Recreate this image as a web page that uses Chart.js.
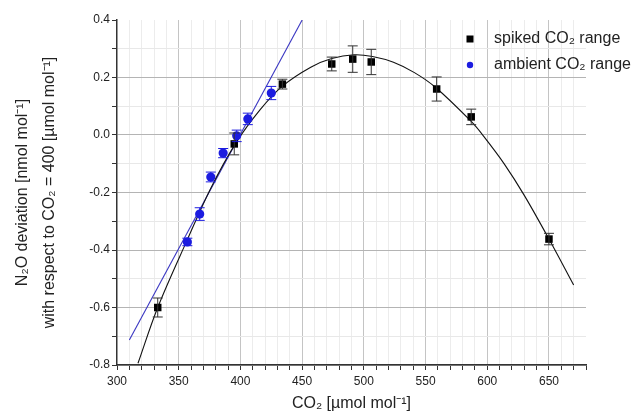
<!DOCTYPE html>
<html>
<head>
<meta charset="utf-8">
<script src="https://cdn.jsdelivr.net/npm/chart.js@4.4.1/dist/chart.umd.min.js"></script>
<style>
  html, body { margin: 0; padding: 0; background: #fff; }
  #wrap { width: 640px; height: 420px; }
</style>
</head>
<body>
<div id="wrap"><canvas id="c" width="640" height="420"></canvas></div>
<script>
// ---- data ----
const spikedX   = [333, 395, 434, 474, 491, 506, 559, 587, 650];
const spikedY   = [-0.600, -0.031, 0.177, 0.247, 0.264, 0.254, 0.160, 0.063, -0.362];
const spikedErr = [0.033, 0.038, 0.017, 0.024, 0.046, 0.044, 0.042, 0.027, 0.020];

const ambientX   = [357, 367, 376, 386, 397, 406, 425];
const ambientY   = [-0.372, -0.275, -0.146, -0.063, -0.003, 0.056, 0.146];
const ambientErr = [0.013, 0.022, 0.017, 0.016, 0.020, 0.020, 0.023];

// fitted curves (read as points along the drawn lines)
const quadFitX = [317, 333, 357, 376, 396, 416, 434, 457, 474, 492, 507, 524, 541, 558, 587, 597, 614, 630, 650, 670];
const quadFitY = [-0.794, -0.600, -0.364, -0.185, -0.030, 0.088, 0.170, 0.236, 0.266, 0.279, 0.273, 0.253, 0.217, 0.166, 0.047, -0.004, -0.102, -0.210, -0.362, -0.522];

const linFitX = [310, 450];
const linFitY = [-0.713, 0.400];

const xMin = 300, xMax = 680, xStep = 10, xMajor = 50;
const yMin = -0.8, yMax = 0.4, yStep = 0.1;

const seriesLabels = ['spiked CO\u2082 range', 'ambient CO\u2082 range'];
const xTitle = 'CO\u2082 [\u00b5mol mol\u207b\u00b9]';
const yTitle = ['N\u2082O deviation [nmol mol\u207b\u00b9]', 'with respect to CO\u2082 = 400 [\u00b5mol mol\u207b\u00b9]'];

const BLUE = '#1c1ce0';
const LINE_BLUE = '#3a36c2';
const FONT = 'Liberation Sans, Arial, Helvetica, sans-serif';

const toPts = (xs, ys) => xs.map((x, i) => ({x: x, y: ys[i]}));

// error bar plugin
const errorBars = {
  id: 'errorBars',
  afterDatasetsDraw(chart) {
    const ctx = chart.ctx;
    const xs = chart.scales.x, ys = chart.scales.y;
    chart.data.datasets.forEach((ds, di) => {
      if (!ds.errors) return;
      const meta = chart.getDatasetMeta(di);
      if (meta.hidden) return;
      ctx.save();
      ctx.strokeStyle = ds.errorColor;
      ctx.lineWidth = 1;
      ds.data.forEach((p, i) => {
        const e = ds.errors[i];
        const px = xs.getPixelForValue(p.x);
        const pt = ys.getPixelForValue(p.y + e);
        const pb = ys.getPixelForValue(p.y - e);
        ctx.beginPath();
        ctx.moveTo(px, pt); ctx.lineTo(px, pb);
        ctx.moveTo(px - 5, pt); ctx.lineTo(px + 5, pt);
        ctx.moveTo(px - 5, pb); ctx.lineTo(px + 5, pb);
        ctx.stroke();
      });
      ctx.restore();
    });
  }
};

// in-plot legend plugin
const inLegend = {
  id: 'inLegend',
  afterDraw(chart) {
    const ctx = chart.ctx;
    const area = chart.chartArea;
    const x0 = area.right - 116, y0 = area.top + 19, dy = 26;
    ctx.save();
    ctx.font = '16px ' + FONT;
    ctx.textBaseline = 'middle';
    ctx.textAlign = 'left';
    chart.data.datasets.forEach((ds, di) => {
      if (!ds.inLegend) return;
      const y = y0 + di * dy;
      ctx.fillStyle = ds.backgroundColor;
      if (ds.pointStyle === 'rect') {
        ctx.fillRect(x0 - 3.5, y - 3.5, 7, 7);
      } else {
        ctx.beginPath(); ctx.arc(x0, y, 3.2, 0, Math.PI * 2); ctx.fill();
      }
      ctx.fillStyle = '#222';
      ctx.fillText(ds.label, x0 + 24, y);
    });
    ctx.restore();
  }
};

const isMult = (v, m) => Math.abs(v / m - Math.round(v / m)) < 1e-6;

new Chart(document.getElementById('c'), {
  type: 'scatter',
  data: {
    datasets: [
      {
        label: seriesLabels[0],
        data: toPts(spikedX, spikedY),
        errors: spikedErr,
        errorColor: '#333',
        inLegend: true,
        pointStyle: 'rect',
        pointRadius: 5.3,
        pointHoverRadius: 5.3,
        backgroundColor: '#000',
        borderColor: '#000',
        borderWidth: 0,
        order: 1
      },
      {
        label: seriesLabels[1],
        data: toPts(ambientX, ambientY),
        errors: ambientErr,
        errorColor: BLUE,
        inLegend: true,
        pointStyle: 'circle',
        pointRadius: 4.6,
        pointHoverRadius: 4.6,
        backgroundColor: BLUE,
        borderColor: BLUE,
        borderWidth: 0,
        order: 2
      },
      {
        label: 'quadratic fit',
        data: toPts(quadFitX, quadFitY),
        showLine: true,
        pointRadius: 0,
        borderColor: '#111',
        borderWidth: 1.1,
        tension: 0.35,
        fill: false,
        order: 3
      },
      {
        label: 'linear fit',
        data: toPts(linFitX, linFitY),
        showLine: true,
        pointRadius: 0,
        borderColor: LINE_BLUE,
        borderWidth: 1.1,
        fill: false,
        order: 4
      }
    ]
  },
  options: {
    responsive: false,
    animation: false,
    layout: { padding: { left: 0, top: 20, right: 54, bottom: 0 } },
    plugins: {
      legend: { display: false },
      tooltip: { enabled: false }
    },
    scales: {
      x: {
        type: 'linear',
        min: xMin, max: xMax,
        afterFit(s) { s.height = 55; },
        border: { display: true, color: '#333', width: 1.5 },
        grid: {
          color: (c) => {
            const v = c.tick.value;
            if (v >= xMax || v <= xMin) return 'rgba(0,0,0,0)';
            return isMult(v, xMajor) ? '#c4c4c4' : '#ececec';
          },
          lineWidth: 1,
          drawTicks: true,
          tickLength: 5,
          tickColor: '#333'
        },
        ticks: {
          stepSize: xStep,
          autoSkip: false,
          maxRotation: 0,
          padding: 4,
          color: '#222',
          font: { family: FONT, size: 12 },
          callback: (v) => isMult(v, xMajor) && v < xMax ? String(v) : ''
        },
        title: {
          display: true,
          text: xTitle,
          color: '#222',
          font: { family: FONT, size: 16, lineHeight: 1.2 },
          padding: { top: 0, bottom: 7 }
        }
      },
      y: {
        type: 'linear',
        min: yMin, max: yMax,
        afterFit(s) { s.width = 117; },
        border: { display: true, color: '#333', width: 1.5 },
        grid: {
          color: (c) => {
            const v = c.tick.value;
            if (v >= yMax - 1e-6) return 'rgba(0,0,0,0)';
            return isMult(v, 0.2) ? '#b4b4b4' : '#e8e8e8';
          },
          lineWidth: 1,
          drawTicks: true,
          tickLength: 5,
          tickColor: '#333'
        },
        ticks: {
          stepSize: yStep,
          autoSkip: false,
          padding: 2,
          color: '#222',
          font: { family: FONT, size: 12 },
          callback: (v) => isMult(v, 0.2) ? (Math.abs(v) < 1e-9 ? '0.0' : v.toFixed(1)) : ''
        },
        title: {
          display: true,
          text: yTitle,
          color: '#222',
          font: { family: FONT, size: 16, lineHeight: 1.7 },
          padding: { top: 9, bottom: 0 }
        }
      }
    }
  },
  plugins: [errorBars, inLegend]
});
</script>
</body>
</html>
